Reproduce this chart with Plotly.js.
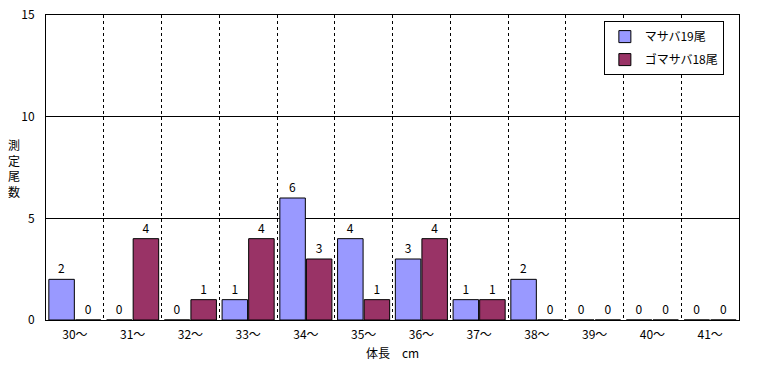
<!DOCTYPE html>
<html><head><meta charset="utf-8">
<script src="https://cdn.plot.ly/plotly-3.0.1.min.js"></script>
<style>body{margin:0;background:#fff}#c{width:760px;height:365px}</style>
</head><body><div id="c"></div>
<script>
const categories = ["30～","31～","32～","33～","34～","35～","36～","37～","38～","39～","40～","41～"];
const masabaName = "マサバ19尾";
const masaba = [2,0,0,1,6,4,3,1,2,0,0,0];
const gomaName = "ゴマサバ18尾";
const goma = [0,4,1,4,3,1,4,1,0,0,0,0];
const yTicks = [0,5,10,15];
const xTitle = "体長　cm";
const yTitle = "測定尾数";

const F = "'Noto Sans CJK JP', 'DejaVu Sans', sans-serif";
function tr(name, vals, color, g){
  return {type:'bar', name:name, x:categories, y:vals, text:vals.map(String),
    textposition:'outside', textfont:{family:F,size:12,color:'#000'}, cliponaxis:false,
    legendgroup:g,
    marker:{color:color, line:{color:'#000', width:1}}};
}
const data = [tr(masabaName, masaba, '#9999FF','a'), tr(gomaName, goma, '#993366','b')];
const layout = {
  width:760, height:365, margin:{l:46,r:21,t:15,b:45},
  paper_bgcolor:'#fff', plot_bgcolor:'#fff',
  font:{family:F, size:12, color:'#000'},
  barmode:'group', bargap:0.08, bargroupgap:0.04,
  showlegend:true,
  legend:{x:0.805, y:0.98, xanchor:'left', yanchor:'top', bordercolor:'#000', borderwidth:1,
    bgcolor:'#fff', traceorder:'grouped', tracegroupgap:4, font:{family:F,size:12}, itemwidth:30},
  xaxis:{type:'category', tickson:'boundaries', showgrid:true, gridcolor:'#000', griddash:'3px,3px', gridwidth:1,
    showline:true, linecolor:'#000', linewidth:1, mirror:true, ticks:'', ticklabelstandoff:4},
  yaxis:{range:[0,15], tickvals:yTicks, showgrid:true, gridcolor:'#000', gridwidth:1,
    showline:true, linecolor:'#000', linewidth:1, mirror:true, ticks:'', zeroline:false,
    ticklabelstandoff:8},
  annotations:[
    {text:yTitle.split('').join('<br>'), xref:'paper', yref:'paper', x:-0.046, y:0.5,
     xanchor:'center', yanchor:'middle', showarrow:false, font:{family:F,size:12}},
    {text:xTitle, xref:'paper', yref:'paper', x:0.5, y:-0.108,
     xanchor:'center', yanchor:'middle', showarrow:false, font:{family:F,size:12}}
  ]
};
Plotly.newPlot('c', data, layout, {displayModeBar:false, staticPlot:true});
</script></body></html>
